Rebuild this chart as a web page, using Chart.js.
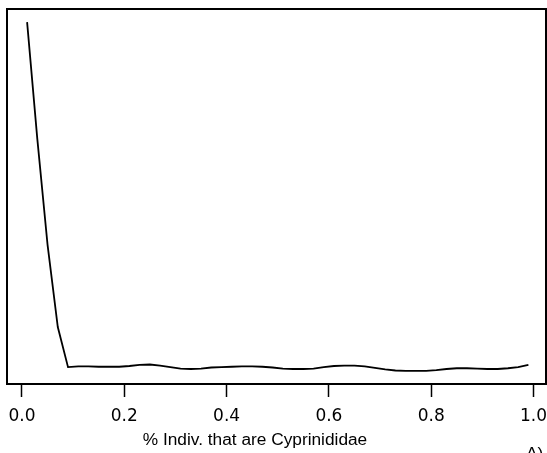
<!DOCTYPE html>
<html>
<head>
<meta charset="utf-8">
<script src="https://cdn.jsdelivr.net/npm/chart.js@4"></script>
<style>
  html, body { margin: 0; padding: 0; background: #fff; }
  #wrap { width: 547px; height: 453px; }
</style>
</head>
<body>
<div id="wrap"><canvas id="chart" width="547" height="453"></canvas></div>
<script>
/* ---- data ---- */
const pctCyprinidae = [
  0.01, 0.03, 0.05, 0.07, 0.09, 0.11, 0.13, 0.15, 0.17, 0.19,
  0.21, 0.23, 0.25, 0.27, 0.29, 0.31, 0.33, 0.35, 0.37, 0.39,
  0.41, 0.43, 0.45, 0.47, 0.49, 0.51, 0.53, 0.55, 0.57, 0.59,
  0.61, 0.63, 0.65, 0.67, 0.69, 0.71, 0.73, 0.75, 0.77, 0.79,
  0.81, 0.83, 0.85, 0.87, 0.89, 0.91, 0.93, 0.95, 0.97, 0.99
];
const response = [
  0.965, 0.653, 0.371, 0.152, 0.045, 0.047, 0.047, 0.046, 0.046, 0.046,
  0.048, 0.051, 0.052, 0.049, 0.045, 0.041, 0.040, 0.041, 0.044, 0.045,
  0.046, 0.047, 0.047, 0.046, 0.044, 0.041, 0.040, 0.040, 0.041, 0.045,
  0.048, 0.049, 0.049, 0.047, 0.043, 0.039, 0.036, 0.035, 0.035, 0.035,
  0.037, 0.040, 0.042, 0.042, 0.041, 0.040, 0.040, 0.042, 0.045, 0.051
];
const xTicks = [0, 0.2, 0.4, 0.6, 0.8, 1.0];
const xTitle = "% Indiv. that are Cyprinididae";
const panelTag = "A)";

const FONT = "'Liberation Sans', Arial, sans-serif";
const TICK_FONT = "'DejaVu Sans', sans-serif";

/* box round the plot area + axis title + panel tag */
const frame = {
  id: "frame",
  afterDraw(chart) {
    const { ctx, chartArea: a } = chart;
    ctx.save();
    ctx.strokeStyle = "#000";
    ctx.lineWidth = 2;
    ctx.strokeRect(a.left, a.top, a.right - a.left, a.bottom - a.top);
    ctx.fillStyle = "#000";
    ctx.font = "17.3px " + FONT;
    ctx.textAlign = "center";
    ctx.textBaseline = "alphabetic";
    ctx.fillText(xTitle, 255, 445);
    ctx.textAlign = "left";
    ctx.textBaseline = "top";
    ctx.fillText(panelTag, 526, 446);
    ctx.restore();
  }
};

new Chart(document.getElementById("chart"), {
  type: "line",
  data: {
    datasets: [{
      data: pctCyprinidae.map((x, i) => ({ x, y: response[i] })),
      borderColor: "#000",
      borderWidth: 1.8,
      pointRadius: 0,
      tension: 0,
      fill: false
    }]
  },
  options: {
    responsive: false,
    animation: false,
    layout: { padding: { left: 7, top: 9, right: 1, bottom: 0 } },
    plugins: { legend: { display: false }, tooltip: { enabled: false } },
    scales: {
      x: {
        type: "linear",
        min: -0.0293,
        max: 1.0244,
        afterBuildTicks(scale) { scale.ticks = xTicks.map(v => ({ value: v })); },
        afterFit(scale) {
          scale.height = 69;
          scale.paddingLeft = 0;
          scale.paddingRight = 0;
        },
        border: { display: false },
        grid: {
          drawOnChartArea: false,
          drawTicks: true,
          tickLength: 13,
          tickColor: "#000",
          tickWidth: 1.5
        },
        ticks: {
          color: "#000",
          font: { family: TICK_FONT, size: 17 },
          padding: 9,
          maxRotation: 0,
          callback: v => v.toFixed(1)
        }
      },
      y: { display: false, min: 0, max: 1 }
    }
  },
  plugins: [frame]
});
</script>
</body>
</html>
